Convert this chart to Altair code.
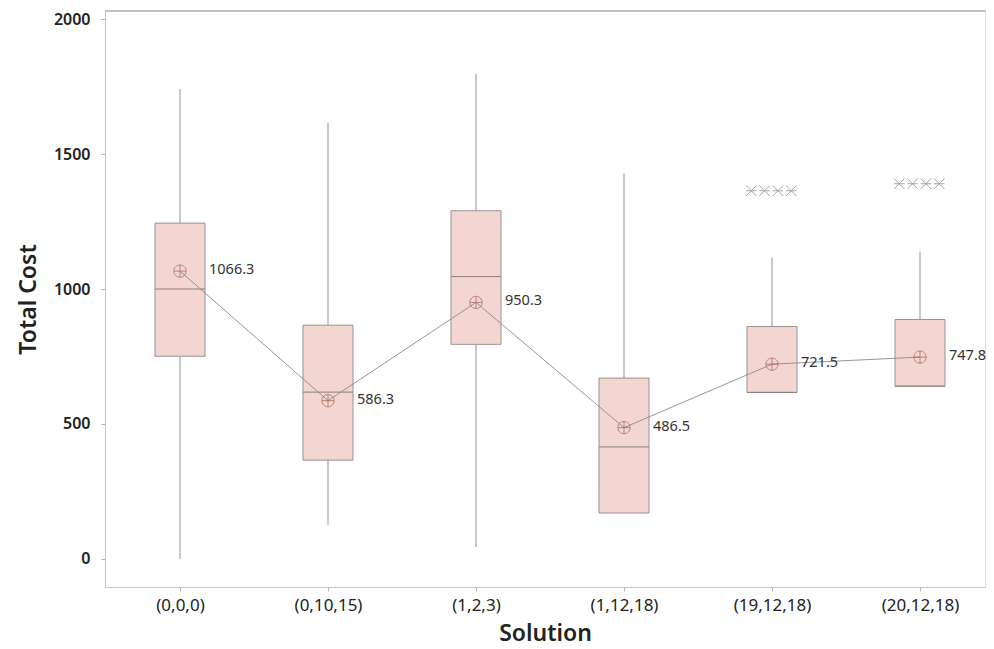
import altair as alt
import pandas as pd

solutions = ["(0,0,0)", "(0,10,15)", "(1,2,3)", "(1,12,18)", "(19,12,18)", "(20,12,18)"]
whisker_low = [0, 126, 44, 170, 617, 640]
q1 = [751, 366, 795, 170, 617, 640]
median = [1000, 618, 1046, 415, 617, 640]
q3 = [1244, 866, 1290, 670, 861, 887]
whisker_high = [1741, 1616, 1797, 1428, 1116, 1139]
means = [1066.3, 586.3, 950.3, 486.5, 721.5, 747.8]
mean_labels = ["1066.3", "586.3", "950.3", "486.5", "721.5", "747.8"]

outlier_group = [4, 4, 4, 4, 5, 5, 5, 5]
outlier_values = [1364, 1364, 1364, 1364, 1390, 1390, 1390, 1390]
outlier_jitter = [-0.14, -0.05, 0.04, 0.13, -0.14, -0.05, 0.04, 0.13]

STEP = 148.0          # pixels per category
HALF = 25 / STEP      # half box width in category units
W = 880

df = pd.DataFrame({
    "i": list(range(len(solutions))),
    "solution": solutions,
    "low": whisker_low,
    "q1": q1,
    "median": median,
    "q3": q3,
    "high": whisker_high,
    "mean": means,
    "label": mean_labels,
})
out_df = pd.DataFrame({
    "i": outlier_group,
    "value": outlier_values,
    "jit": outlier_jitter,
})
out_df["xpos"] = out_df["i"] + out_df["jit"]

label_expr = "[" + ",".join("'%s'" % s for s in solutions) + "][datum.value]"

x0 = -75 / STEP
xscale = alt.Scale(domain=[x0, x0 + W / STEP], nice=False, zero=False)
yscale = alt.Scale(domain=[-104, 2030], nice=False, zero=False)

FONT = "Noto Sans"
GRAY = "#8f8f8f"

x_axis = alt.Axis(
    title="Solution", values=[0, 1, 2, 3, 4, 5], labelExpr=label_expr,
    grid=False, tickSize=4, tickColor="#b0b0b0", domainColor="#c4c4c4",
    labelFont=FONT, labelFontSize=17, labelColor="#222", labelPadding=6,
    titleFont=FONT, titleFontSize=23, titleFontWeight=600, titleColor="#222",
    titlePadding=9,
)
y_axis = alt.Axis(
    title="Total Cost", values=[0, 500, 1000, 1500, 2000], format="d",
    grid=False, tickSize=4, tickColor="#b0b0b0", domainColor="#c4c4c4",
    labelFont=FONT, labelFontSize=16, labelFontWeight=600, labelColor="#222",
    labelPadding=11,
    titleFont=FONT, titleFontSize=23, titleFontWeight=600, titleColor="#222",
    titlePadding=13,
)

base = alt.Chart(df).transform_calculate(
    xl="datum.i - %f" % HALF, xr="datum.i + %f" % HALF
)

top_border = alt.Chart(df).mark_rule(color="#c4c4c4", strokeWidth=1.2).encode(
    x=alt.value(0), x2=alt.value(W + 1), y=alt.value(0)
)

whisk_hi = base.mark_rule(color=GRAY, strokeWidth=1).encode(
    x=alt.X("i:Q", scale=xscale, axis=x_axis),
    y=alt.Y("q3:Q", scale=yscale, axis=y_axis),
    y2="high:Q",
)
whisk_lo = base.mark_rule(color=GRAY, strokeWidth=1).encode(
    x=alt.X("i:Q", scale=xscale),
    y=alt.Y("low:Q", scale=yscale),
    y2="q1:Q",
)
box = base.mark_rect(fill="#f3d6d1", stroke="#9a9090", strokeWidth=1).encode(
    x=alt.X("xl:Q", scale=xscale),
    x2="xr:Q",
    y=alt.Y("q1:Q", scale=yscale),
    y2="q3:Q",
)
med = base.mark_rule(color="#8a7f7d", strokeWidth=1).encode(
    x=alt.X("xl:Q", scale=xscale),
    x2="xr:Q",
    y=alt.Y("median:Q", scale=yscale),
)
mean_line = base.mark_line(color="#8a8a8a", strokeWidth=0.9).encode(
    x=alt.X("i:Q", scale=xscale),
    y=alt.Y("mean:Q", scale=yscale),
)
mean_pt = base.mark_point(
    shape="M1,0A1,1 0 1,1 -1,0A1,1 0 1,1 1,0M-1,0L1,0M0,-1L0,1",
    size=150, filled=False, color="#a05a55", strokeWidth=1,
).encode(
    x=alt.X("i:Q", scale=xscale),
    y=alt.Y("mean:Q", scale=yscale),
)
mean_txt = base.mark_text(
    align="left", baseline="middle", dx=29, dy=-1, font=FONT, fontSize=14.5, color="#333"
).encode(
    x=alt.X("i:Q", scale=xscale),
    y=alt.Y("mean:Q", scale=yscale),
    text="label:N",
)
outl = alt.Chart(out_df).mark_point(
    shape="M-1,-1L1,1M-1,1L1,-1M-1,0L1,0", size=110, filled=False,
    color="#808080", strokeWidth=1,
).encode(
    x=alt.X("xpos:Q", scale=xscale),
    y=alt.Y("value:Q", scale=yscale),
)

chart = alt.layer(
    top_border, whisk_hi, whisk_lo, box, med, mean_line, mean_pt, mean_txt, outl
).properties(
    width=W, height=576,
    autosize=alt.AutoSizeParams(type="none"),
    padding={"left": 97, "top": 3, "right": 1, "bottom": 62},
).configure_view(stroke=None).configure(background="white")

chart.save("out.html", embed_options={"renderer": "svg", "actions": False})
